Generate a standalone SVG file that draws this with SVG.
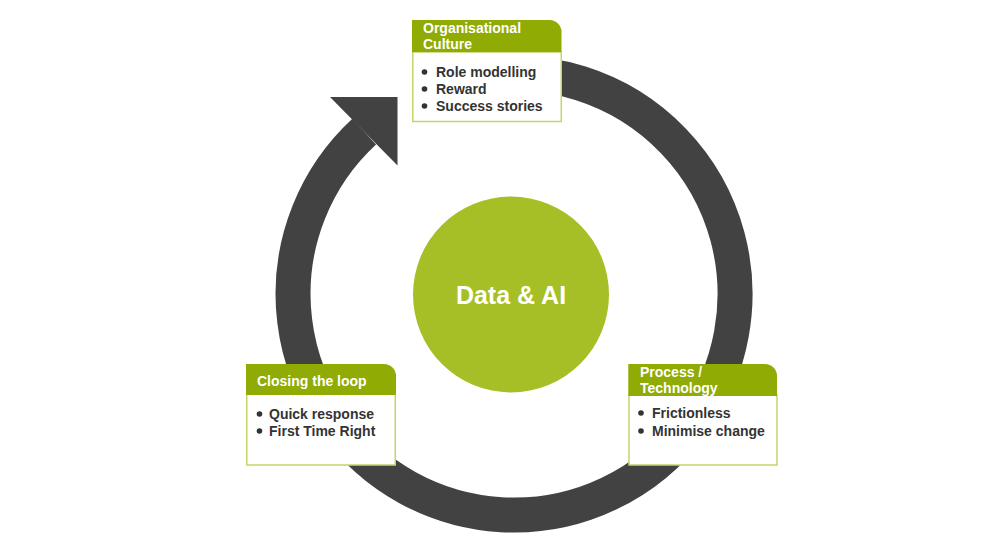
<svg xmlns="http://www.w3.org/2000/svg" width="998" height="554" viewBox="0 0 998 554">
<style>
.hdr{fill:#8fab04}
.body{fill:#ffffff;stroke:#c2d66b;stroke-width:1.5}
.ht{font-family:"Liberation Sans",Arial,sans-serif;font-weight:bold;font-size:14px;fill:#ffffff}
.bt{font-family:"Liberation Sans",Arial,sans-serif;font-weight:bold;font-size:14px;fill:#333333}
.dot{fill:#333333}
.ring{fill:none;stroke:#424242;stroke-width:35}
</style>
<rect width="998" height="554" fill="#ffffff"/>
<g id="connectors">
<path class="ring" d="M483.2,75.2 A221,221 0 1 1 364.2,131.6"/>
<polygon points="330,97 397.5,97 397.5,165.5" fill="#424242"/>
</g>
<g id="center">
<circle cx="511" cy="294.5" r="98" fill="#a6bf26"/>
<text x="511" y="303.5" text-anchor="middle" font-family="Liberation Sans, Arial, sans-serif" font-weight="bold" font-size="25" fill="#ffffff">Data &amp; AI</text>
</g>
<g id="culture">
<rect class="body" x="412.75" y="52" width="148.5" height="69.5"/>
<path class="hdr" d="M412,20 H549 A12,12 0 0 1 561.5,32.5 V52 H412 Z"/>
<text class="ht" x="423" y="33">Organisational</text>
<text class="ht" x="423" y="49">Culture</text>
<circle class="dot" cx="424.5" cy="72" r="2.8"/>
<circle class="dot" cx="424.5" cy="89" r="2.8"/>
<circle class="dot" cx="424.5" cy="106" r="2.8"/>
<text class="bt" x="436" y="77">Role modelling</text>
<text class="bt" x="436" y="94">Reward</text>
<text class="bt" x="436" y="111">Success stories</text>
</g>
<g id="closing">
<rect class="body" x="246.75" y="394" width="148.5" height="71"/>
<path class="hdr" d="M246,364 H383.5 A12,12 0 0 1 396,376.5 V395 H246 Z"/>
<text class="ht" x="257" y="386">Closing the loop</text>
<circle class="dot" cx="259.5" cy="414" r="2.8"/>
<circle class="dot" cx="259.5" cy="431" r="2.8"/>
<text class="bt" x="269" y="419">Quick response</text>
<text class="bt" x="269" y="436">First Time Right</text>
</g>
<g id="process">
<rect class="body" x="629" y="395" width="148" height="70"/>
<path class="hdr" d="M628.3,364 H764.5 A12,12 0 0 1 777,376.5 V396 H628.3 Z"/>
<text class="ht" x="640" y="377">Process /</text>
<text class="ht" x="640" y="393">Technology</text>
<circle class="dot" cx="641" cy="413" r="2.8"/>
<circle class="dot" cx="641" cy="431" r="2.8"/>
<text class="bt" x="652" y="418">Frictionless</text>
<text class="bt" x="652" y="436">Minimise change</text>
</g>
</svg>
